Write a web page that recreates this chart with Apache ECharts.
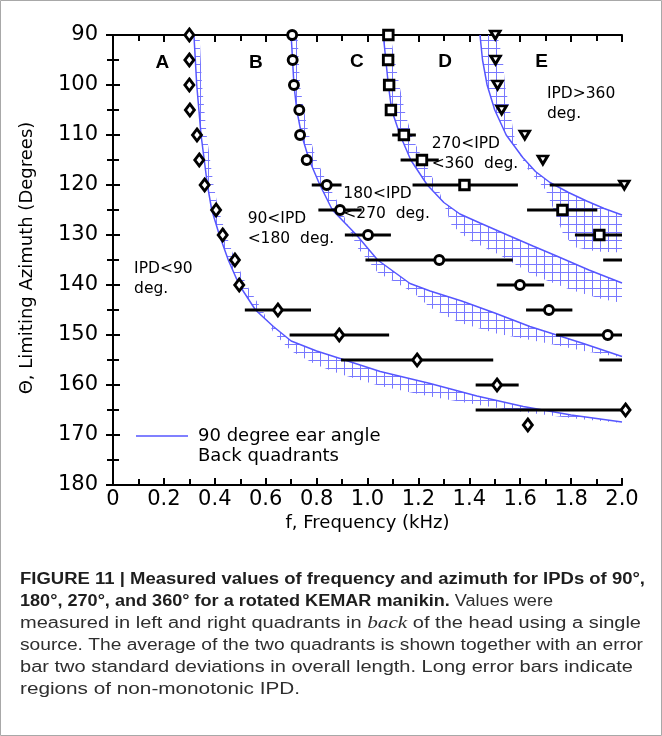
<!DOCTYPE html>
<html>
<head>
<meta charset="utf-8">
<script src="https://cdn.jsdelivr.net/npm/echarts@6/dist/echarts.min.js"></script>
<style>
  html, body { margin: 0; padding: 0; background: #fff; }
  #chart { width: 662px; height: 736px; }
</style>
</head>
<body>
<div id="chart"></div>
<script>
// ---------- data ----------
const xTickLabels = ['0', '0.2', '0.4', '0.6', '0.8', '1.0', '1.2', '1.4', '1.6', '1.8', '2.0'];
const yTickLabels = ['90', '100', '110', '120', '130', '140', '150', '160', '170', '180'];

// IPD < 90 deg (diamonds)
const diamondAz = [90, 95, 100, 105, 110, 115, 120, 125, 130, 135, 140, 145, 150, 155, 160, 165, 168];
const diamondF  = [0.30, 0.30, 0.30, 0.302, 0.33, 0.339, 0.36, 0.405, 0.431, 0.479, 0.496, 0.648, 0.889, 1.195, 1.509, 2.014, 1.630];
const diamondBarAz = [145, 150, 155, 160, 165];
const diamondBarLo = [0.518, 0.694, 0.896, 1.425, 1.425];
const diamondBarHi = [0.778, 1.085, 1.494, 1.594, 2.0];

// 90 < IPD < 180 deg (circles)
const circleAz = [90, 95, 100, 105, 110, 115, 120, 125, 130, 135, 140, 145, 150];
const circleF  = [0.704, 0.706, 0.711, 0.732, 0.735, 0.761, 0.840, 0.892, 1.002, 1.282, 1.599, 1.713, 1.944];
const circleBarAz = [120, 125, 130, 135, 140, 145, 150, 155];
const circleBarLo = [0.781, 0.807, 0.911, 0.992, 1.508, 1.623, 1.741, 1.911];
const circleBarHi = [0.898, 0.977, 1.092, 1.571, 1.694, 1.805, 2.0, 2.0];

// 180 < IPD < 270 deg (squares)
const squareAz = [90, 95, 100, 105, 110, 115, 120, 125, 130];
const squareF  = [1.082, 1.081, 1.085, 1.092, 1.143, 1.214, 1.381, 1.766, 1.911];
const squareBarAz = [110, 115, 120, 125, 130, 135];
const squareBarLo = [1.097, 1.130, 1.177, 1.627, 1.815, 1.926];
const squareBarHi = [1.190, 1.280, 1.591, 1.903, 2.0, 2.0];

// 270 < IPD < 360 deg (down triangles)
const triangleAz = [90, 95, 100, 105, 110, 115, 120];
const triangleF  = [1.502, 1.503, 1.511, 1.527, 1.618, 1.689, 2.009];
const triangleBarAz = [120];
const triangleBarLo = [1.716];
const triangleBarHi = [2.0];

// 90 degree ear angle model curves, back quadrants: [frequency kHz, azimuth deg]
const curve90 = [[0.318, 90], [0.329, 100], [0.346, 110], [0.371, 120], [0.388, 125], [0.418, 130], [0.453, 135],
  [0.496, 140], [0.56, 145], [0.63, 148.3], [0.70, 151.2], [0.80, 153.2], [0.892, 154.7], [1.05, 157.3],
  [1.246, 159.7], [1.43, 162.2], [1.612, 164.3], [1.80, 166.0], [2.0, 167.4]];
const curve180 = [[0.700, 90], [0.711, 100], [0.722, 105], [0.741, 110], [0.771, 115], [0.813, 120], [0.862, 125],
  [0.957, 130], [1.04, 135], [1.167, 139.7], [1.246, 141.2], [1.37, 143.2], [1.50, 145.6], [1.638, 148.3],
  [1.848, 151.7], [2.0, 154.3]];
const curve270 = [[1.062, 90], [1.082, 100], [1.095, 105], [1.128, 110], [1.17, 115], [1.235, 120], [1.30, 123.5],
  [1.363, 125.8], [1.442, 127.6], [1.55, 130], [1.65, 132.2], [1.743, 134.2], [1.87, 137], [2.0, 139.6]];
const curve360 = [[1.442, 90], [1.452, 95], [1.47, 100], [1.50, 105], [1.545, 110], [1.61, 114.5], [1.66, 117.3],
  [1.717, 119.5], [1.79, 121.5], [1.861, 123.2], [1.93, 124.7], [2.0, 126]];

// outer edges of the hatched spread beside each curve
const spread90 = [[0.34, 90], [0.35, 100], [0.368, 110], [0.395, 120], [0.415, 125], [0.445, 130], [0.48, 135],
  [0.525, 140], [0.59, 145.3], [0.63, 149.5], [0.70, 153.2], [0.80, 156], [0.892, 157.8], [1.05, 160.2],
  [1.246, 162.3], [1.45, 164.1], [1.61, 165.4], [1.83, 166.8], [2.0, 167.6]];
const spread180 = [[0.725, 90], [0.735, 100], [0.75, 105], [0.77, 110], [0.80, 115], [0.845, 120], [0.89, 124],
  [0.93, 129], [0.96, 132.5], [1.04, 137.5], [1.18, 141.5], [1.246, 144.5], [1.36, 147.5], [1.507, 149.7],
  [1.691, 151.5], [1.85, 153.2], [2.0, 154.5]];
const spread270 = [[1.09, 90], [1.125, 100], [1.15, 106], [1.18, 111], [1.23, 116], [1.28, 121], [1.33, 128],
  [1.40, 131], [1.52, 134], [1.65, 138], [1.80, 141], [1.92, 142.8], [2.0, 143.6]];
const spread360 = [[1.51, 90], [1.532, 95], [1.54, 100], [1.56, 105], [1.575, 110], [1.60, 114], [1.625, 116.5],
  [1.70, 121], [1.74, 126], [1.77, 130], [1.82, 132.5], [1.90, 133.3], [2.0, 133.5]];

// region labels
const noteText = ['A', 'B', 'C', 'D', 'E',
  'IPD<90\ndeg.', '90<IPD\n<180  deg.', '180<IPD\n<270  deg.', '270<IPD\n<360  deg.', 'IPD>360\ndeg.'];
const noteF  = [0.194, 0.561, 0.958, 1.305, 1.684, 0.083, 0.529, 0.905, 1.252, 1.705];
const noteAz = [95.5, 95.5, 95.3, 95.3, 95.3, 134.7, 124.7, 119.7, 109.7, 99.7];

// ---------- styles ----------
const LINE_BLUE = '#5656ff';
const hatchCanvas = document.createElement('canvas');
hatchCanvas.width = 8; hatchCanvas.height = 8;
(function () {
  const g = hatchCanvas.getContext('2d');
  g.fillStyle = '#7878ff';
  g.fillRect(0, 0, 1, 8);
  g.fillRect(0, 0, 8, 1);
})();
const hatchFill = { image: hatchCanvas, repeat: 'repeat' };
const SANS = '"DejaVu Sans", sans-serif';

function bandSeries(inner, outer) {
  const poly = inner.concat(outer.slice().reverse());
  return {
    type: 'custom', z: 1, silent: true, clip: true, data: poly,
    renderItem: function (p, api) {
      if (p.dataIndex !== 0) return null;
      return { type: 'polygon', shape: { points: poly.map(q => api.coord(q)) }, style: { fill: hatchFill } };
    }
  };
}
function curveSeries(pts) {
  return { type: 'line', z: 2, silent: true, data: pts, symbol: 'none', clip: true,
    lineStyle: { color: LINE_BLUE, width: 1.5 } };
}
function barSeries(az, lo, hi) {
  return {
    type: 'custom', z: 3, silent: true, clip: false,
    data: az.map((a, i) => [lo[i], hi[i], a]),
    encode: { x: [0, 1], y: 2 },
    renderItem: function (p, api) {
      const a = api.coord([api.value(0), api.value(2)]);
      const b = api.coord([api.value(1), api.value(2)]);
      return { type: 'line', shape: { x1: a[0], y1: a[1], x2: b[0], y2: b[1] }, style: { stroke: '#000', lineWidth: 3 } };
    }
  };
}
function markSeries(fs, az, symbol, size, rotate) {
  return {
    type: 'scatter', z: 4, silent: true, clip: false,
    data: fs.map((f, i) => [f, az[i]]),
    symbol: symbol, symbolSize: size, symbolRotate: rotate || 0,
    itemStyle: { color: '#fff', borderColor: '#000', borderWidth: 2.9, opacity: 1 }
  };
}

const tickStyle = { color: '#000', width: 2 };
function axisBase(extra) {
  return Object.assign({
    type: 'value', gridIndex: 0,
    axisLine: { show: true, lineStyle: { color: '#000', width: 2 } },
    axisTick: { show: true, inside: true, length: 7, lineStyle: tickStyle },
    minorTick: { show: true, splitNumber: 2, length: 6, lineStyle: tickStyle },
    splitLine: { show: false }, minorSplitLine: { show: false }
  }, extra);
}

const chart = echarts.init(document.getElementById('chart'), null, { renderer: 'canvas' });

const option = {
  animation: false,
  backgroundColor: '#fff',
  grid: { left: 113, top: 35, width: 509, height: 450 },
  xAxis: [
    axisBase({ position: 'bottom', min: 0, max: 2, interval: 0.2,
      axisLabel: { margin: 4, color: '#000', fontSize: 21, fontFamily: SANS,
        formatter: v => xTickLabels[Math.round(v / 0.2)] } }),
    axisBase({ position: 'top', min: 0, max: 2, interval: 0.2, axisLabel: { show: false } })
  ],
  yAxis: [
    axisBase({ position: 'left', inverse: true, min: 90, max: 180, interval: 10,
      axisLabel: { margin: 15, color: '#000', fontSize: 21, fontFamily: SANS,
        formatter: v => yTickLabels[Math.round((v - 90) / 10)] } }),
    axisBase({ position: 'right', inverse: true, min: 90, max: 180, interval: 10, axisLabel: { show: false } })
  ],
  series: [
    bandSeries(curve90, spread90),
    bandSeries(curve180, spread180),
    bandSeries(curve270, spread270),
    bandSeries(curve360, spread360),
    curveSeries(curve90),
    curveSeries(curve180),
    curveSeries(curve270),
    curveSeries(curve360),
    barSeries(diamondBarAz, diamondBarLo, diamondBarHi),
    barSeries(circleBarAz, circleBarLo, circleBarHi),
    barSeries(squareBarAz, squareBarLo, squareBarHi),
    barSeries(triangleBarAz, triangleBarLo, triangleBarHi),
    markSeries(diamondF, diamondAz, 'diamond', [9, 12]),
    markSeries(circleF, circleAz, 'circle', 9),
    markSeries(squareF, squareAz, 'rect', 9.5),
    markSeries(triangleF, triangleAz, 'triangle', [9.5, 8], 180),
    {
      type: 'custom', z: 5, silent: true, clip: false,
      data: noteF.map((f, i) => [f, noteAz[i], i]),
      renderItem: function (p, api) {
        const i = api.value(2);
        const pt = api.coord([api.value(0), api.value(1)]);
        const big = i < 5;
        return {
          type: 'text', x: pt[0], y: pt[1],
          style: big ? {
            text: noteText[i], fill: '#000', font: 'bold 19px "Liberation Sans", sans-serif',
            align: 'center', verticalAlign: 'middle'
          } : {
            text: noteText[i], fill: '#000', font: '15.5px ' + SANS, lineHeight: 20,
            align: 'left', verticalAlign: 'top'
          }
        };
      }
    }
  ],
  graphic: []
};
chart.setOption(option);

// ---------- legend, axis titles, caption ----------
const measureCtx = document.createElement('canvas').getContext('2d');
const capSize = 16;
const capStyles = {
  b: { font: 'bold ' + capSize + 'px "Liberation Sans"', fontWeight: 'bold', fontFamily: 'Liberation Sans', color: '#1e1e1e' },
  n: { font: capSize + 'px "Liberation Sans"', fontWeight: 'normal', fontFamily: 'Liberation Sans', color: '#2e2e2e' },
  i: { font: 'italic ' + (capSize + 1) + 'px "Liberation Serif"', fontWeight: 'normal', fontStyle: 'italic', fontFamily: 'Liberation Serif', color: '#2e2e2e' }
};
const capLines = [
  [['b', 'FIGURE 11 | Measured values of frequency and azimuth for IPDs of 90°,']],
  [['b', '180°, 270°, and 360° for a rotated KEMAR manikin.'], ['n', ' Values were']],
  [['n', 'measured in left and right quadrants in '], ['i', 'back'], ['n', ' of the head using a single']],
  [['n', 'source. The average of the two quadrants is shown together with an error']],
  [['n', 'bar two standard deviations in overall length. Long error bars indicate']],
  [['n', 'regions of non-monotonic IPD.']]
];
const capWidths = [625, 533, 621, 623, 613, 280];
const capY = [580, 602, 624, 646, 668, 690];

const graphics = [
  { type: 'rect', shape: { x: 0.5, y: 0.5, width: 661, height: 735 }, style: { fill: null, stroke: '#a8a8a8', lineWidth: 1 }, z: 0, silent: true },
  { type: 'line', shape: { x1: 136, y1: 436, x2: 188, y2: 436 }, style: { stroke: LINE_BLUE, lineWidth: 1.5 }, z: 10 },
  { type: 'text', x: 198, y: 436, z: 10, style: { text: '90 degree ear angle', font: '18px ' + SANS, fill: '#000', verticalAlign: 'middle' } },
  { type: 'text', x: 198, y: 456, z: 10, style: { text: 'Back quadrants', font: '18px ' + SANS, fill: '#000', verticalAlign: 'middle' } },
  { type: 'text', x: 367.5, y: 523, z: 10, style: { text: 'f, Frequency (kHz)', font: '18px ' + SANS, fill: '#000', align: 'center', verticalAlign: 'middle' } },
  { type: 'text', x: 27, y: 258, rotation: Math.PI / 2, z: 10, style: { text: 'Θ, Limiting Azimuth (Degrees)', font: '18px ' + SANS, fill: '#000', align: 'center', verticalAlign: 'middle' } }
];

capLines.forEach(function (segs, k) {
  let natural = 0;
  const rich = {};
  let txt = '';
  segs.forEach(function (s) {
    measureCtx.font = capStyles[s[0]].font;
    natural += measureCtx.measureText(s[1]).width;
    txt += '{' + s[0] + '|' + s[1] + '}';
  });
  Object.keys(capStyles).forEach(function (key) {
    const st = capStyles[key];
    rich[key] = { fontSize: key === 'i' ? capSize + 1 : capSize, fontWeight: st.fontWeight, fontStyle: st.fontStyle || 'normal',
      fontFamily: st.fontFamily, fill: st.color };
  });
  graphics.push({
    type: 'text', x: 20, y: capY[k], scaleX: capWidths[k] / natural, z: 10, silent: true,
    style: { text: txt, rich: rich, verticalAlign: 'middle', align: 'left' }
  });
});

chart.setOption({ graphic: graphics });
</script>
</body>
</html>
